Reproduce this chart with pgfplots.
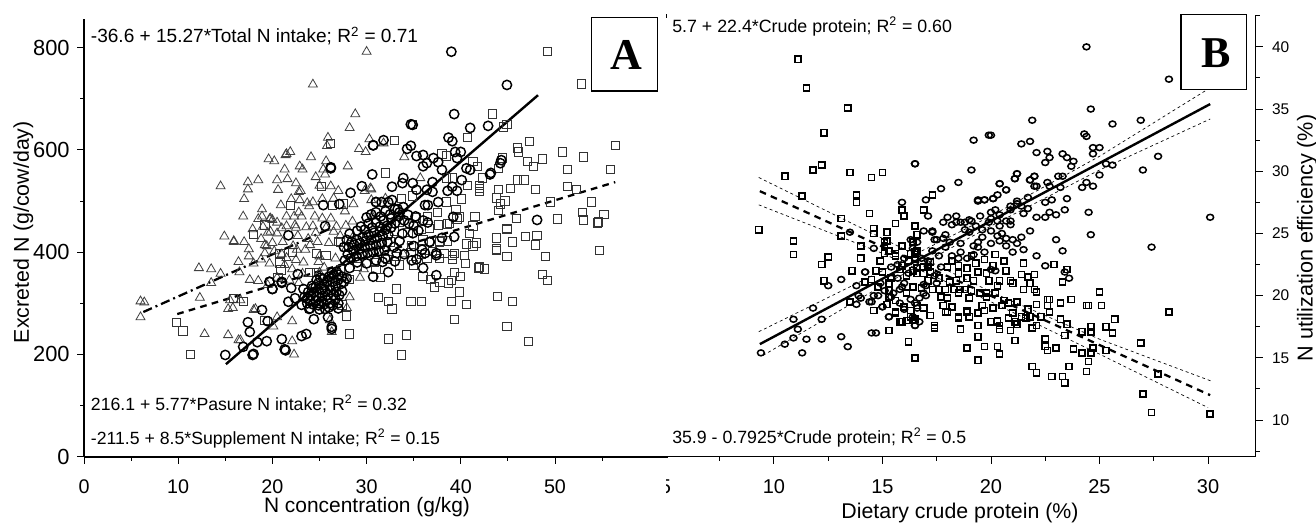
\documentclass[border=0pt]{standalone}
\usepackage{pgfplots}
\pgfplotsset{compat=1.18}
\usepackage{fontspec}
\setmainfont{Liberation Sans}
\newfontfamily\boxfont{Liberation Serif}
\newcommand{\fs}[1]{\fontsize{#1}{#1}\selectfont}
\newcommand{\supt}{\textsuperscript{2}}
\definecolor{tri}{gray}{0.25}
\definecolor{sq}{gray}{0.2}
\pgfplotsset{
 common/.style={scale only axis, clip=false,
  major tick length=5.25pt, minor tick length=3pt,
  /pgf/number format/assume math mode=true,
  scaled ticks=false},
 trimk/.style={only marks,mark=triangle,mark size=3.9pt,mark options={draw=tri,line width=0.6pt,fill=none}},
 sqmk/.style={only marks,mark=square,mark size=3.1pt,mark options={draw=sq,line width=0.72pt,fill=none}},
 cimk/.style={only marks,mark=o,mark size=3.5pt,mark options={draw=black,line width=1.1pt,fill=none}},
 bsq/.style={only marks,mark=square,mark size=2.3pt,mark options={draw=black,line width=1.15pt,fill=none}},
 bci/.style={only marks,mark=o,mark size=2.6pt,mark options={draw=black,line width=1.15pt,fill=none,yscale=0.85}},
 ci/.style={black,no marks,line width=0.5pt,dash pattern=on 2.2pt off 2.2pt},
}
\begin{document}
\begin{tikzpicture}
\useasboundingbox (0,0) rectangle (987pt,392.25pt);
% ---------- panel B
\begin{axis}[common, at={(495pt,49.7pt)}, anchor=south west, width=446.8pt, height=331.65pt,
  xmin=4.75, xmax=32.2, ymin=7.05, ymax=42.6,
  axis x line=bottom, axis y line=right,
  tick align=outside,
  tick style={black,line width=0.7pt},
  x axis line style={-,black,line width=0.8pt},
  y axis line style={-,black,line width=0.8pt},
  xtick={5,10,15,20,25,30}, minor xtick={7.5,12.5,17.5,22.5,27.5},
  ytick={10,15,20,25,30,35,40}, minor ytick={7.5,12.5,17.5,22.5,27.5,32.5,37.5,42.5},
  x tick label style={font=\fs{15pt}, yshift=-8.5pt},
  y tick label style={font=\fs{11.6pt}, xshift=3.5pt},
  xlabel={Dietary crude protein (\%)}, ylabel={N utilization efficiency (\%)},
  every axis x label/.style={at={(axis description cs:0.5036,-0.127)},anchor=center,font=\fs{16pt}},
  every axis y label/.style={at={(axis description cs:1.086,0.4946)},anchor=center,rotate=90,font=\fs{16.2pt}},
]
\addplot[bci] coordinates {
(9.4,15.4)(10.5,16.1)(10.9,16.6)(11.3,15.4)(11.5,16.5)(12.2,16.5)(13.1,16.7)(13.4,15.9)(11.1,17.3)(10.9,18.1)
(11.8,19)(12.2,18.1)(12.5,20.8)(13.1,21.3)(14.5,17)(14.7,17)(13.8,19.3)(14,19.8)(14.4,19.5)(15,19.1)(14.8,20)
(14.2,21.9)(15.3,18.3)(16.5,17.6)(13.8,20.8)(17,20.8)(17,20)(16.5,30.6)(19.2,32.5)(19.9,32.9)(19.1,30.1)(18.5,29.1)
(17.7,28.6)(17,27.7)(15.9,27.5)(19.4,27.7)(19.7,27.7)(13.5,25.1)(14.6,23.8)(17.1,26.4)(18,26.3)(17.8,25.9)
(17.3,25.2)(17.4,24.5)(24.4,40)(28.2,37.4)(24.6,35)(21.9,34.1)(25.6,33.8)(26.9,34.1)(24.3,33)(24.4,32.8)(21.8,32.4)
(21.4,32.2)(20,32.9)(24.7,31.9)(25,31.9)(24.7,31.4)(22.1,31.5)(22.6,31.6)(22.7,31.1)(22.5,30.7)(23.3,31.4)(23.5,31.1)
(23.8,30.8)(23.7,30.4)(27.7,31.2)(25.3,30.6)(25.6,30.5)(27,30.1)(25,29.7)(21.2,29.8)(21.1,29.4)(22,29.6)(21.8,29.3)
(23.1,29.6)(23.3,29.6)(22.6,29.1)(22.7,28.8)(22.1,28.8)(23.2,28.7)(24.2,28.7)(24.4,29.1)(24.7,28.8)(20.4,29)(20.7,28.5)
(20.3,28.1)(20.1,27.8)(21.7,27.9)(23.5,27.8)(22.5,27.5)(22.8,27.7)(20.9,27.2)(21.2,27.4)(21.7,27)(21.4,27.2)(23.4,26.9)
(24.5,26.7)(21.5,26.6)(20.4,26.5)(22.7,26.7)(23,26.5)(22.1,26.3)(22.5,26.3)(30.1,26.3)(20.7,26)(20.9,25.7)(20.3,26)(20,26.2)
(20,25.2)(21.8,25.2)(24.6,24.9)(23,24.5)(21.4,24.7)(21,24.5)(20.7,24.6)(20.4,24.4)(23.3,23.6)(27.4,23.9)(22.1,23.2)
(22.5,22.4)(23.4,21.9)(23.6,21.4)(20.2,22)(16.5,30.6)(18.4,26.4)(19.1,26)(18.6,25.9)(18.8,25.9)(19.5,26.4)(20,26.7)
(19.4,27.6)(19.7,27.7)(20.1,27.8)(20.7,28.5)(20.4,29)(21.2,29.8)(21.1,29.4)(21.8,29.3)(22,29.6)(22,28.8)(20.9,26.9)(21.2,27.6)
(20.9,26)(20.4,25.6)(19.9,25.9)(19.6,25.3)(19.4,24.3)(19.4,23.9)(19.6,24.7)(18.6,24.2)(19.2,24)(17.3,25.1)(17.5,24.5)
(17.9,24.9)(18.2,25.7)(19,25.1)(18.1,24.3)(18.4,25.9)(19,26.1)(14.2,21.9)(13.9,20)(14.5,19.5)(15,19.1)(15.3,18.3)(16.5,17.6)
(16.9,20.9)(16.9,20.2)(15.9,20.7)(16,21)(15.4,22.3)(17.7,22.3)(20,22.1)(17.4,21.6)(17.5,21)(15.8,19.4)(16.6,19)(16.7,19.8)
(15.5,20.2)(15.8,20.5)(14.6,20)(16,18.9)(16.3,19.7)(16.5,19.4)(16.4,18.3)(16.7,17.9)(15.7,21.4)(20.5,25)(21.5,23.7)(18.5,23)
(15.4,21.4)(15.7,22.5)(16,23)(16.4,23.8)(16.6,24.3)(16.8,23)(17.1,22.8)(17.3,23.6)(17.6,23.2)(17.9,23.9)(18.2,23.2)(18.6,23.5)(18.9,23)(19.2,23.3)
(19.7,23.5)(20,24.2)(20.3,24.8)(20.7,24)(21,23.5)(21.2,24.2)(16.3,24.5)(16.9,25.2)(16.2,21.8)(15.1,20.4)(15.4,19.9)(14.9,21)(17.8,24.6)(18.8,25.3)(19.3,25.6)(20.2,26.9)
};
\addplot[bsq] coordinates {
(11.1,39)(11.5,36.7)(13.4,35.1)(12.3,33.1)(12.2,30.5)(11.8,30.1)(10.5,29.6)(13.5,29.9)(14.5,29.5)(15,29.9)(11.3,28)(13.8,28.1)
(13.8,27.5)(14.4,26.6)(13.1,26.2)(17.3,28.1)(16.9,26.9)(15.9,26.9)(16,26.4)(15.6,25.8)(16.5,25.6)(14.6,25.4)(14.6,25)(15.2,25.1)
(13.1,24.8)(9.3,25.3)(10.9,24.4)(10.9,23.3)(12.5,23.1)(14,23)(15.1,24.3)(15.9,24)(16.4,24.3)(15.6,23.4)(16.5,23.3)
(22.9,22.5)(23.5,22.1)(23.3,21.1)(20.7,22)(21.4,21.7)(21.7,21.5)(20.4,21.2)(20.3,20.8)(20.9,21.2)(21,21)(21.8,21)(21.5,20.5)(22,20.5)
(22.1,20.3)(25,20.3)(20.2,20.2)(23.7,19.7)(22.7,19.7)(23.2,19.4)(22.6,19.2)(22.1,19.3)(21.2,19.5)(20.8,19.4)(20.6,19.6)(24.4,19.2)(24.5,19.2)
(25.1,19.2)(28.2,18.7)(20.1,19)(21.7,18.9)(22.7,18.7)(21.4,18.3)(21.8,18.3)(20.8,18.2)(23.2,18.1)(25.7,18.1)(20.3,17.9)(20,17.9)(21.2,17.7)
(22.1,17.6)(23.5,17.7)(24.6,17.5)(25.3,17.5)(20.4,17.3)(20.9,17.2)(21.9,17.4)(24.2,17.1)(24.6,17.1)(23.4,16.8)(25.6,17)(22.5,16.5)(21.1,16.4)
(26.9,16.2)(24.7,15.8)(22.5,15.9)(22.6,15.6)(23,15.8)(23.8,15.7)(24.2,15.4)(24.6,15.4)(25.3,15.6)(20.3,15.9)(20.4,15.3)(24.5,14.7)(23.6,14.3)
(21.9,14.3)(22.1,13.8)(24.4,13.9)(22.8,13.5)(23.3,13.5)(23.4,13)(27.7,13.7)(27,12.1)(27.4,10.6)(30.1,10.5)
(12.3,21.2)(12.2,22.5)(14.7,22)(14.2,21.1)(15.3,21)(14.8,20.7)(15.3,20.4)(15.3,19.9)(13.5,19.5)(14.6,18.8)(15.6,18.6)(15.8,17.9)(16.1,18)(16.5,18.1)
(16.9,19)(17.2,18.4)(18,18.7)(18.2,19.1)(17.4,17.4)(15.3,17.2)(18.6,17.3)(18.5,18.2)(18.9,18.7)(19,18.3)(19.4,18.6)(19.7,18.8)(19.4,17.6)(19.4,16.7)
(18.9,15.8)(19.7,15.9)(19.4,14.8)(16.2,16.3)(16.5,15)(17.3,20.5)(17.6,20.5)(17.9,20.5)(18.3,20.5)(18.6,20.5)(18.8,20.5)(18,19.8)(19,19.8)
(16.6,24.9)(15.2,24.4)(15.1,24)(15.1,23.4)(15.3,23.6)(15.6,23.2)(16.3,23.4)(16.5,23.5)(16.2,22.8)(16.5,22.9)(14.9,22.8)(15.9,22.4)(16.4,22)(16.6,22.2)
(16.9,22.3)(17.1,22.3)(16.6,21.8)(16.9,21.8)(17.2,21.9)(18,22.3)(18.5,22.4)(18.9,22.2)(18.5,21.8)(18.9,21.4)(19.2,21.2)(19.4,21.9)(19.8,21.8)(19.9,21.2)
(20.4,21.2)(20.7,22)(20.9,21.2)(21,21)(17.7,19.9)(18.5,20.2)(19.1,20.4)(19,19.8)(19.5,20.2)(19.8,20.2)(20.2,20.2)(19.8,19.9)(20.6,19.6)(21.2,19.5)
(20.1,19)(19.7,18.8)(18.9,18.8)(18.2,19.1)(17.9,18.7)(19.4,18.6)(19,18.3)(18.5,18.3)(16.9,19)(17.2,18.4)(15.6,18.7)(15.9,17.9)(16.4,18)(16.3,18.8)(16.3,18.3)
(17.4,17.6)(19.4,17.6)(20,17.9)(20.3,18)(20.8,18.2)(20.4,17.6)(21.1,17.9)(21.6,18.2)(21.7,18.9)(22.1,19.3)(22.6,19.2)(22.6,19.7)(23.2,19.4)(23.3,21.1)(22.9,22.5)
(15.8,22.1)(16.1,21.6)(15.4,21.4)(15,21.9)(14.5,21.3)(16.4,20.7)(16.8,20.6)(16.1,20.2)(15.6,19.6)(15.2,19.3)(16,19.1)(16.6,19.2)(17.1,21.2)(17.6,21.4)(18.1,21.1)(18.4,21.2)
(19.3,22.6)(19.7,22.9)(20.1,22.4)(20.6,22.8)(20.2,23.3)(19.1,23.2)(18.2,22.8)(21.5,22.6)(22,21.7)(19.6,19.2)(20.5,19.2)(21,18.6)(22.3,18.3)(17.8,19.2)(16.6,23.6)(17.2,22.7)(14,24)(13.6,22)
};
\addplot[black,no marks,line width=1.8pt] coordinates {(9.35,16.1)(30.1,35.4)};
\addplot[ci] coordinates {(9.3,17.1)(15,22)(20,26.4)(25,31.2)(30,36.6)};
\addplot[ci] coordinates {(9.5,15.2)(15,20.8)(20,25.6)(25,30.1)(30.1,34.2)};
\addplot[black,no marks,line width=1.7pt,dash pattern=on 5pt off 4pt] coordinates {(9.35,28.4)(30.1,12)};
\addplot[ci] coordinates {(9.3,29.5)(15,24.6)(20,20.3)(25,16.5)(30.2,13.1)};
\addplot[ci] coordinates {(9.3,27.3)(15,23.4)(20,19.5)(25,15.3)(30,11)};
\end{axis}
% cover where panel A was pasted over panel B
\fill[white] (0,0) rectangle (499.4pt,392.25pt);
\draw[black,line width=0.8pt] (499.6pt,378.8pt) -- (499.6pt,381.8pt);
% ---------- panel A
\begin{axis}[common, at={(63pt,49.7pt)}, anchor=south west, width=438pt, height=328.3pt,
  xmin=0, xmax=62, ymin=0, ymax=856,
  axis x line=bottom, axis y line=left,
  tick align=outside,
  tick style={black,line width=0.7pt},
  x axis line style={-,black,line width=1.2pt},
  y axis line style={-,black,line width=0.8pt},
  xtick={0,10,20,30,40,50}, minor xtick={5,15,25,35,45,55},
  ytick={0,200,400,600,800}, minor ytick={100,300,500,700},
  x tick label style={font=\fs{14.8pt}, yshift=-8.5pt},
  y tick label style={font=\fs{16.4pt}, xshift=-2pt},
  xlabel={N concentration (g/kg)}, ylabel={Excreted N (g/cow/day)},
  every axis x label/.style={at={(axis description cs:0.4846,-0.115)},anchor=center,font=\fs{15.7pt}},
  every axis y label/.style={at={(axis description cs:-0.104,0.513)},anchor=center,rotate=90,font=\fs{16pt}},
]
\addplot[trimk] coordinates {
(24.3,728)(28.8,670)(28.2,643)(25.9,624)(25.8,608)(30.3,621)(29.2,602)(29.9,596)(21.9,596)(21.4,590)(21.5,592)(19.6,582)(20.2,578)(24.1,586)(25.7,578)
(22.9,568)(23.2,562)(21.3,562)(28,568)(25.4,562)(25.6,552)(24.6,547)(14.5,529)(17.4,537)(18.5,541)(20.5,541)(21.6,543)(22.5,535)(17.4,523)(20.6,522)
(22.8,518)(26.2,529)(17,504)(22,504)(20.9,492)(22.9,502)(23.7,496)(23.9,490)(24.3,498)(25.3,504)(30.5,523)(28.6,494)(18.9,484)(18.9,470)(19.8,466)(20,463)
(22.3,470)(23.1,470)(27.7,480)(26.2,466)(25.3,466)(30.6,470)(21.5,451)(22.4,453)(23.6,449)(24.3,451)(19.5,438)(20.5,437)(22.7,432)(15.9,420)(17,420)(18.8,426)
(20,418)(21.1,420)(19.4,412)(17.5,406)(17.5,392)(18.8,386)(21.5,389)(22.5,385)(24.9,381)(16.5,361)(22.1,367)(17.6,346)(18.5,344)(22.8,340)(29.7,367)(29.3,350)
(28.2,312)(27.9,291)(18.2,289)(15.5,306)(22.1,265)(20.1,255)(20.5,273)(16.6,228)(22.1,226)(22.3,200)(26.3,244)(26.1,267)(33.9,396)
(6,304)(6.4,302)(6,273)(12.2,369)(13.5,367)(13.5,340)(12.3,311)(12.8,240)(15.3,289)(15.8,291)(15.3,238)(16.4,228)(16.6,306)(18,287)(14.9,431)(15.9,422)
(19.7,465)(19.2,414)(30,792)(34,586)(31.8,613)(30.4,525)(29.8,520)(35.7,545)(32,505)(30.5,502)(26.5,440)(24.6,438)(26,418)(24,414)(23.5,405)(25,392)(25.5,370)
(21.5,470)(22.8,478)(26.8,450)(27.8,452)(28.5,460)(22.2,412)(21,396)(23.3,380)(26.7,388)(27.8,350)(27.8,407)(28.5,428)(20.5,350)(19.5,336)
(19,450)(19.8,440)(21,447)(22.5,448)(17.9,445)(18.5,465)(20.5,458)(19.2,398)(20.2,402)(18,378)(19.7,378)(21.3,375)(22.6,405)(23.8,426)(24.8,420)(16.4,381)(14.5,358)(16.9,470)
(23,520)(25,530)(26.5,505)(27,520)(24.5,470)(25.7,448)(27.2,432)(23.2,358)(21.8,345)(25,360)
};
\addplot[sqmk] coordinates {
(26.2,612)(25.2,529)(21.9,492)(26.4,492)(27.5,494)
(49.2,792)(52.8,729)(43.4,670)(34.9,649)(44.9,649)(44.5,645)(40.7,624)(33,619)(47.3,617)(56.4,608)(46,604)(46.1,596)(50.8,596)(53,586)(47.1,578)(48.7,582)(44.4,584)
(47.7,568)(51.3,562)(55.9,562)(44,564)(41.3,578)(41.8,568)(38,592)(38.5,588)(32,555)(42.3,545)(39.1,545)(38.5,545)(46,541)(46.7,541)(42,531)(42,525)(42,518)(40.7,531)
(44,522)(45.3,525)(47.9,523)(51.3,529)(52.3,522)(53.9,498)(49.5,498)(43.8,506)(44.7,500)(44.2,494)(40.1,504)(38.5,498)(44,481)(39.5,484)(52.9,478)(55.2,474)(41.5,470)
(39.9,469)(45.9,466)(50.3,465)(53,463)(54.6,459)(54.5,457)(41.3,451)(38.6,455)(40.9,437)(48.1,432)(46.9,430)(44.9,447)(44.9,445)(43.8,428)(45.5,420)(47.9,414)(40.6,416)
(41.7,418)(41.3,412)(38.6,422)(37.8,422)(43.8,406)(43.8,404)(44.9,392)(39.3,398)(38.3,398)(54.7,404)(40.4,394)(49,391)
(41.9,369)(42.5,367)(48.7,357)(49.2,344)(39.3,361)(40,353)(36.8,347)(36,352)(39,344)(38.7,340)(37.8,341)(37.2,332)(31.5,351)(33.2,328)(31.3,311)(32.3,303)(32.7,289)
(34.7,304)(35.8,304)(39.9,322)(39,304)(40.6,298)(43.9,314)(45.5,303)(39.3,269)(44.9,254)(47.2,226)(28.2,240)(32.3,230)(34.2,238)(33.7,199)(27.9,275)
(9.8,263)(10.5,246)(11.3,200)(15.9,310)(16.9,303)(19.2,267)(20.9,365)(20.6,351)(18,435)(19.2,453)(27,421)(20.8,379)(27.4,297)(28.2,347)(27.2,365)(33.2,391)(34.7,400)
(35.8,396)(36.4,388)(20.8,398)(22.1,400)(27.2,420)(25.7,394)(24.7,398)(24,361)(24.7,361)
(37.5,478)(39.6,465)(37.6,453)(38.8,456)(35.3,467)(34.4,438)(36,424)(37.7,420)(34.8,412)(37.7,388)(36.4,388)(42,371)(39.1,394)(39.1,386)(40.5,378)(34.9,510)(33.7,505)(36.5,470)
(33.5,458)(31.8,462)(33,440)(35.8,445)(36.7,446)(32.5,420)(31.5,415)(30.5,400)(30.8,380)(29,372)(31,366)(30,430)(29,388)(32.2,385)(35,375)(37,402)(33.5,375)
};
\addplot[cimk] coordinates {
(39,792)(44.9,727)(39.3,670)(42.9,647)(41,643)(34.9,649)(34.7,650)(38.7,624)(39.1,617)(31.8,619)(30.7,609)(34.3,602)(34.7,608)(35.3,588)(36,590)(37.1,584)(36,568)(36.4,574)
(37.6,576)(38,561)(39.4,596)(40,596)(39.6,584)(40.6,564)(41,561)(44.3,580)(44.2,574)(43.2,555)(43.1,552)(30.6,552)(28.3,516)(29.5,529)(32.7,528)(33.9,545)(33.8,535)(34.9,535)
(35.3,522)(37,537)(37,518)(36.4,522)(38.6,520)(39.1,528)(39.6,520)(40.1,541)(31,498)(31.6,498)(32.3,498)(32.7,502)(36.2,492)(36.5,492)(37.6,498)(33.9,488)(33.3,484)(34.4,473)
(39.2,469)(48.1,463)(39.3,430)(36.7,420)(34.9,437)(37.4,394)(30.7,609)(26.2,564)(26.2,566)(25.4,492)(27.1,494)(31,498)
(21.7,433)(25.6,451)(19.7,342)(21,342)(21,340)(20,328)(22.7,357)(22,330)(23.3,328)(18.9,287)(17.4,263)(17.6,244)(19.5,265)(18.4,224)(19.4,226)(21,230)(21.3,210)(21.4,208)(23.1,236)
(23.6,240)(17.9,199)(18,201)(16.9,215)(24.4,269)(25.9,273)(26.3,254)(26.3,250)(23.9,289)(25.6,289)(21.7,303)(22.4,310)(23.7,310)(23.1,297)(25,300)(30.7,352)(32.3,361)(28.2,369)
(27.9,349)(31.7,381)(36,369)(35.3,386)(36.7,420)(37.4,355)(37.4,398)(15,199)(20,328)(19.7,342)
% dense cluster low
(23.7,300)(24,305)(24.3,298)(24.6,306)(24.9,296)(25.2,304)(25.5,298)(25.8,306)(26.1,300)(26.4,296)(26.7,308)(27,300)(24.1,315)(24.4,322)(24.7,312)(25,320)(25.3,314)(25.6,324)
(25.9,316)(26.2,326)(26.5,316)(26.8,322)(27.1,316)(27.4,324)(24.6,332)(24.9,340)(25.2,328)(25.5,336)(25.8,344)(26.1,334)(26.4,342)(26.7,334)(27,346)(27.3,338)(26,352)(26.5,356)
(27,356)(27.4,352)(25.4,348)(24.2,334)(23.8,322)(23.4,312)(25.1,350)(24.7,346)(24.3,330)(26.3,360)(26.8,362)(27.6,342)(24,290)(25,288)(26,292)(27,290)
% dense cluster mid
(27.7,384)(28,396)(28.3,388)(28.6,402)(28.9,392)(29.2,406)(29.5,396)(29.8,410)(30.1,398)(30.4,412)(30.7,400)(31,414)(31.3,402)(31.6,418)(31.9,404)(32.2,420)(28.1,410)(28.4,420)(28.7,414)
(29,424)(29.3,418)(29.6,430)(29.9,422)(30.2,434)(30.5,424)(30.8,438)(31.1,428)(31.4,440)(31.7,432)(32,444)(32.3,434)(32.6,448)(32.9,410)(33.2,398)(33.5,422)(33.8,436)(29,442)(29.4,450)
(29.8,444)(30.2,456)(30.6,448)(31,458)(31.4,450)(31.8,462)(32.2,452)(32.6,466)(33,456)(33.4,470)(30,468)(30.5,474)(31,478)(31.5,470)(32,480)(32.5,474)(33,484)(33.5,478)(34,462)(34.5,456)
(35,452)(35.5,442)(29,380)(30,378)(31,384)(32,388)(33,382)(34,396)(28.2,436)(27.9,424)(27.6,410)(36,462)(36.5,458)(35.2,470)(35,412)(35.9,405)(38,428)(36.2,398)(34.8,384)
};
\addplot[black,no marks,line width=1.8pt] coordinates {(15.07,181)(48.2,707)};
\addplot[black,no marks,line width=1.7pt,dash pattern=on 5pt off 4pt] coordinates {(9.9,279)(56.4,537)};
\addplot[black,no marks,line width=1.7pt,dash pattern=on 7pt off 3pt on 1.5pt off 3pt] coordinates {(6.3,283)(26,445)};
\end{axis}
% ---------- annotations
\node[anchor=base west,inner sep=0,font=\fs{14.3pt}] at (68pt,360pt) {-36.6 + 15.27*Total N intake; R\supt{} = 0.71};
\node[anchor=base west,inner sep=0,font=\fs{13.25pt}] at (68pt,84.2pt) {216.1 + 5.77*Pasure N intake; R\supt{} = 0.32};
\node[anchor=base west,inner sep=0,font=\fs{13.25pt}] at (68pt,59.2pt) {-211.5 + 8.5*Supplement N intake; R\supt{} = 0.15};
\node[anchor=base west,inner sep=0,font=\fs{13.35pt}] at (504pt,368.2pt) {5.7 + 22.4*Crude protein; R\supt{} = 0.60};
\node[anchor=base west,inner sep=0,font=\fs{13.3pt}] at (504pt,59.8pt) {35.9 - 0.7925*Crude protein; R\supt{} = 0.5};
\filldraw[draw=black,fill=white,line width=1pt] (443.8pt,324pt) rectangle (493pt,379.3pt);
\node[font=\boxfont\bfseries\fs{33pt}] at (469.6pt,351pt) {A};
\filldraw[draw=black,fill=white,line width=1pt] (885.8pt,325.2pt) rectangle (935pt,381.2pt);
\node[font=\boxfont\bfseries\fs{33pt}] at (911.8pt,352.5pt) {B};
\end{tikzpicture}
\end{document}
